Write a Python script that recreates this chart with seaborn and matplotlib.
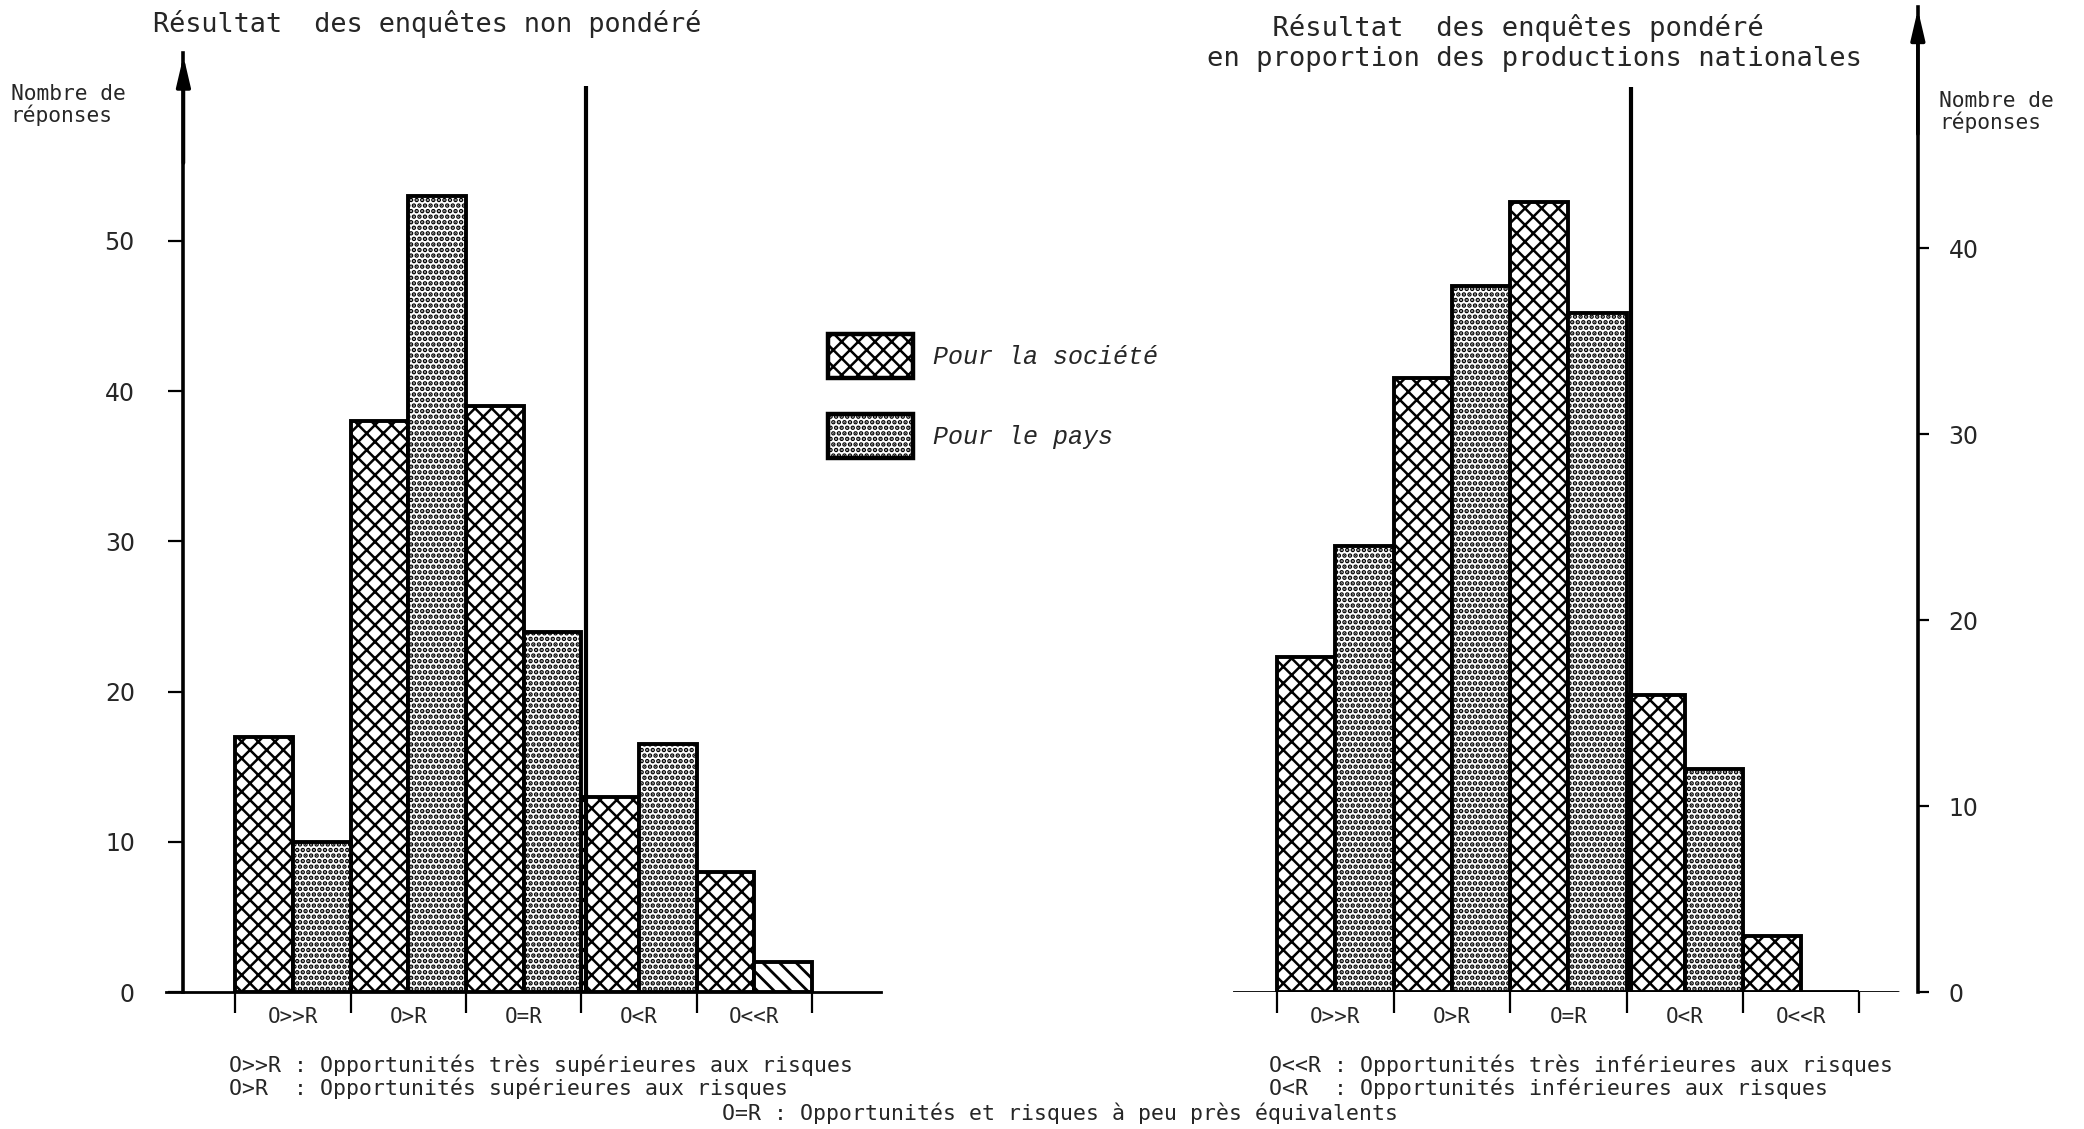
import numpy as np
import pandas as pd
import matplotlib
matplotlib.use("Agg")
import matplotlib.pyplot as plt
import matplotlib.patches as mpatches
import seaborn as sns

# ---------------- data ----------------
categories = ["O>>R", "O>R", "O=R", "O<R", "O<<R"]
series = ["Pour la société", "Pour le pays"]

left_societe = [17, 38, 39, 13, 8]
left_pays = [10, 53, 24, 16.5, 2]

right_societe = [18, 33, 42.5, 16, 3]
right_pays = [24, 38, 36.5, 12, 0]

left_ticks = [0, 10, 20, 30, 40, 50]
right_ticks = [0, 10, 20, 30, 40]

left_title = "Résultat  des enquêtes non pondéré"
right_title = "    Résultat  des enquêtes pondéré\nen proportion des productions nationales"
ylabel_text = "Nombre de\nréponses"

notes_left = ["O>>R : Opportunités très supérieures aux risques",
              "O>R  : Opportunités supérieures aux risques"]
notes_right = ["O<<R : Opportunités très inférieures aux risques",
               "O<R  : Opportunités inférieures aux risques"]
note_center = "O=R : Opportunités et risques à peu près équivalents"

# ---------------- style ----------------
sns.set_theme(style="white")
plt.rcParams["font.family"] = ["DejaVu Sans Mono", "DejaVu Sans"]
plt.rcParams["hatch.linewidth"] = 1.8
plt.rcParams["hatch.color"] = "black"

W, H = 1568.0, 849.0  # reference coordinate frame (shrunk)
fig = plt.figure(figsize=(20.84, 11.29), dpi=100)
fig.patch.set_facecolor("white")

HATCH_SOC = "xx"
HATCH_PAYS = "..."
LW = 2.8
HLW_SOC = 1.8
HLW_PAYS = 2.3


def set_hlw(p, w):
    if hasattr(p, "set_hatch_linewidth"):
        p.set_hatch_linewidth(w)


def make_df(soc, pays):
    return pd.DataFrame({
        "cat": categories * 2,
        "val": list(soc) + list(pays),
        "serie": [series[0]] * len(categories) + [series[1]] * len(categories),
    })


def draw_bars(ax, soc, pays):
    df = make_df(soc, pays)
    sns.barplot(data=df, x="cat", y="val", hue="serie", order=categories,
                hue_order=series, palette=["white", "white"], saturation=1,
                edgecolor="black", linewidth=LW, width=1.0, gap=0,
                errorbar=None, legend=False, ax=ax)
    for cont, h, w in zip(ax.containers, [HATCH_SOC, HATCH_PAYS], [HLW_SOC, HLW_PAYS]):
        for bar in cont:
            bar.set_hatch(h)
            set_hlw(bar, w)
            bar.set_facecolor("white")
            bar.set_edgecolor("black")
    return ax


def style_xaxis(ax):
    ax.set_xlabel("")
    ax.set_ylabel("")
    ax.set_xticks(range(len(categories)))
    ax.set_xticklabels(categories, fontsize=15, family="DejaVu Sans Mono")
    ax.set_xticks(np.arange(-0.5, len(categories)), minor=True)
    ax.tick_params(axis="x", which="major", length=0, pad=11)
    ax.tick_params(axis="x", which="minor", length=15, width=1.6,
                   direction="out", bottom=True, color="black")


# ---------------- left panel ----------------
axL = fig.add_axes([125 / W, 1 - 746 / H, (663 - 125) / W, (746 - 40) / H])
draw_bars(axL, left_societe, left_pays)
# special diagonal hatch for the last small bar
axL.containers[1][4].set_hatch("\\\\")
set_hlw(axL.containers[1][4], 2.0)
axL.set_xlim(-1.1, 5.1)
axL.set_ylim(0, 62.5)
style_xaxis(axL)
for s in ["top", "right"]:
    axL.spines[s].set_visible(False)
axL.spines["bottom"].set_linewidth(2.0)
axL.spines["bottom"].set_color("black")
axL.spines["left"].set_position(("data", -0.95))
axL.spines["left"].set_linewidth(2.6)
axL.spines["left"].set_color("black")
axL.set_yticks(left_ticks)
axL.set_yticklabels([str(t) for t in left_ticks], fontsize=17, family="DejaVu Sans")
axL.tick_params(axis="y", length=11, width=1.6, direction="out", pad=24,
                left=True, color="black")
axL.annotate("", xy=(-0.95, 62.5), xytext=(-0.95, 55),
             arrowprops=dict(arrowstyle="-|>,head_length=1.5,head_width=0.35",
                             lw=2.6, color="black"),
             annotation_clip=False)
axL.vlines(2.54, 0, 60.3, color="black", lw=3)
fig.text(115 / W, 1 - 18 / H, left_title, fontsize=19.4, ha="left", va="center",
         family="DejaVu Sans Mono")

# ---------------- right panel ----------------
axR = fig.add_axes([928 / W, 1 - 746 / H, (1443 - 928) / W, (746 - 5) / H])
draw_bars(axR, right_societe, right_pays)
axR.set_xlim(-0.877, 5.002)
axR.set_ylim(0, 53.0)
style_xaxis(axR)
for s in ["top", "left", "bottom"]:
    axR.spines[s].set_visible(False)
axR.axhline(0, xmin=0, xmax=(1428 - 928) / (1443 - 928), color="black", lw=2.0)
axR.spines["right"].set_linewidth(2.6)
axR.spines["right"].set_color("black")
axR.yaxis.tick_right()
axR.set_yticks(right_ticks)
axR.set_yticklabels([str(t) for t in right_ticks], fontsize=17, family="DejaVu Sans")
axR.tick_params(axis="y", length=8, width=1.6, direction="out", pad=14,
                right=True, left=False, color="black")
axR.annotate("", xy=(5.002, 53.0), xytext=(5.002, 46),
             arrowprops=dict(arrowstyle="-|>,head_length=1.5,head_width=0.35",
                             lw=2.6, color="black"),
             annotation_clip=False)
axR.vlines(2.537, 0, 48.7, color="black", lw=3)

fig.text(908 / W, 1 - 32.5 / H, right_title, fontsize=19.5, ha="left", va="center",
         linespacing=1.2, family="DejaVu Sans Mono")

# ---------------- y labels ----------------
fig.text(8 / W, 1 - 79 / H, ylabel_text, fontsize=15.3, ha="left", va="center",
         linespacing=1.05, family="DejaVu Sans Mono")
fig.text(1459 / W, 1 - 84 / H, ylabel_text, fontsize=15.3, ha="left", va="center",
         linespacing=1.05, family="DejaVu Sans Mono")

# ---------------- legend ----------------
h1 = mpatches.Patch(facecolor="white", edgecolor="black", hatch=HATCH_SOC,
                    linewidth=3.2, label=series[0])
h2 = mpatches.Patch(facecolor="white", edgecolor="black", hatch=HATCH_PAYS,
                    linewidth=3.2, label=series[1])
set_hlw(h1, HLW_SOC)
set_hlw(h2, HLW_PAYS)
leg = fig.legend(handles=[h1, h2], loc="upper left",
                 bbox_to_anchor=(610 / W, 1 - 238 / H), frameon=False,
                 prop=dict(family="Liberation Mono", style="italic", size=18),
                 handlelength=3.4, handleheight=2.33, labelspacing=1.44,
                 handletextpad=0.8, borderpad=0.2)
for p in leg.get_patches():
    set_hlw(p, HLW_PAYS if p.get_hatch() == HATCH_PAYS else HLW_SOC)

# ---------------- footnotes ----------------
for i, t in enumerate(notes_left):
    fig.text(172 / W, 1 - (801 + 17 * i) / H, t, fontsize=15.5, ha="left",
             va="center", family="DejaVu Sans Mono")
for i, t in enumerate(notes_right):
    fig.text(955 / W, 1 - (801 + 17 * i) / H, t, fontsize=15.5, ha="left",
             va="center", family="DejaVu Sans Mono")
fig.text(543 / W, 1 - 837 / H, note_center, fontsize=15.5, ha="left",
         va="center", family="DejaVu Sans Mono")

fig.savefig("out.png", dpi=100, facecolor="white")
